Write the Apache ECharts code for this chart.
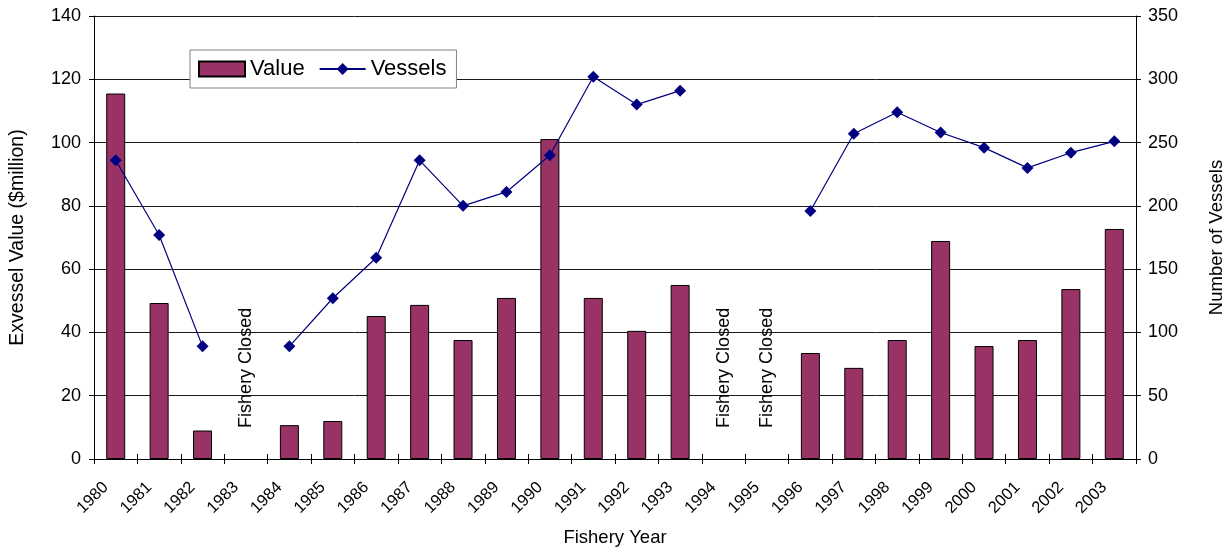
<!DOCTYPE html>
<html><head><meta charset="utf-8">
<script src="https://cdn.jsdelivr.net/npm/echarts@6/dist/echarts.min.js"></script>
<style>html,body{margin:0;padding:0;background:#fff}#c{width:1228px;height:552px}</style>
</head><body><div id="c"></div>
<script>
const years = ['1980','1981','1982','1983','1984','1985','1986','1987','1988','1989','1990','1991','1992','1993','1994','1995','1996','1997','1998','1999','2000','2001','2002','2003'];
const valueData = [115.5,49.3,9,null,10.7,12,45.2,48.7,37.6,50.9,101.1,50.9,40.5,55,null,null,33.5,28.8,37.6,68.9,35.7,37.6,53.7,72.7];
const vesselData = [236,177,89,null,89,127,159,236,200,211,240,302,280,291,null,null,196,257,274,258,246,230,242,251];
const closedYears = ['1983','1994','1995'];
const closedLabel = 'Fishery Closed';
const closedLabelLevel = 28.8;

const font = '"Liberation Sans", Arial, sans-serif';
const chart = echarts.init(document.getElementById('c'), null, {renderer:'canvas'});
chart.setOption({
  animation: false,
  textStyle: {fontFamily: font, color: '#000'},
  grid: {left: 94, right: 92, top: 16, bottom: 93, outerBoundsMode: 'none', containLabel: false},
  legend: {
    left: 190, top: 50, padding: [8, 10, 8, 8], itemGap: 14,
    backgroundColor: '#fff', borderColor: '#808080', borderWidth: 1,
    itemWidth: 46, itemHeight: 15,
    textStyle: {fontFamily: font, fontSize: 22, color: '#000'},
    data: [{name: 'Value', icon: 'rect'}, {name: 'Vessels'}]
  },
  xAxis: [{
    type: 'category', data: years, boundaryGap: true,
    name: 'Fishery Year', nameLocation: 'middle', nameGap: 69,
    nameTextStyle: {fontSize: 18.5, color: '#000', fontFamily: font},
    axisLine: {lineStyle: {color: '#000', width: 1}},
    axisTick: {show: true, inside: false, length: 5, lineStyle: {color: '#000'}},
    axisLabel: {interval: 0, rotate: 45, margin: 16, fontSize: 16.5, color: '#000', fontFamily: font,
      formatter: v => '{a|' + v + '}', rich: {a: {fontSize: 16.5, fontFamily: font, color: '#000', padding: [0, 14, 0, 0]}}}
  }, {
    type: 'category', data: years, boundaryGap: true, position: 'bottom',
    axisLine: {show: false}, axisLabel: {show: false},
    axisTick: {show: true, inside: true, length: 5, lineStyle: {color: '#000'}}
  }],
  yAxis: [{
    type: 'value', min: 0, max: 140, interval: 20,
    name: 'Exvessel Value ($million)', nameLocation: 'middle', nameGap: 66,
    nameTextStyle: {fontSize: 19.5, color: '#000', fontFamily: font},
    axisLine: {show: true, lineStyle: {color: '#000'}},
    axisTick: {show: true, length: 5, lineStyle: {color: '#000'}},
    axisLabel: {fontSize: 18, color: '#000', margin: 13},
    splitLine: {show: true, lineStyle: {color: '#1a1a1a', width: 1}}
  }, {
    type: 'value', min: 0, max: 350, interval: 50, position: 'right',
    name: 'Number of Vessels', nameLocation: 'middle', nameGap: 71, nameRotate: 90,
    nameTextStyle: {fontSize: 18.5, color: '#000', fontFamily: font},
    axisLine: {show: true, lineStyle: {color: '#000'}},
    axisTick: {show: true, length: 5, lineStyle: {color: '#000'}},
    axisLabel: {fontSize: 18, color: '#000', margin: 12},
    splitLine: {show: false}
  }],
  series: [{
    name: 'Value', type: 'bar', data: valueData, barWidth: 19,
    itemStyle: {color: '#993366', borderColor: '#000', borderWidth: 1}
  }, {
    name: 'Vessels', type: 'line', yAxisIndex: 1, data: vesselData, connectNulls: false,
    symbol: 'diamond', symbolSize: 12, showAllSymbol: true,
    lineStyle: {color: '#000080', width: 1.2},
    itemStyle: {color: '#000080'}
  }, {
    name: 'closed', type: 'scatter', symbol: 'circle', symbolSize: 2, silent: true,
    itemStyle: {color: 'rgba(0,0,0,0)', opacity: 1},
    data: closedYears.map(y => [y, closedLabelLevel]),
    label: {show: true, position: 'inside', rotate: 90, formatter: closedLabel,
      fontSize: 18, color: '#000', opacity: 1, fontFamily: font}
  }]
});
</script></body></html>
